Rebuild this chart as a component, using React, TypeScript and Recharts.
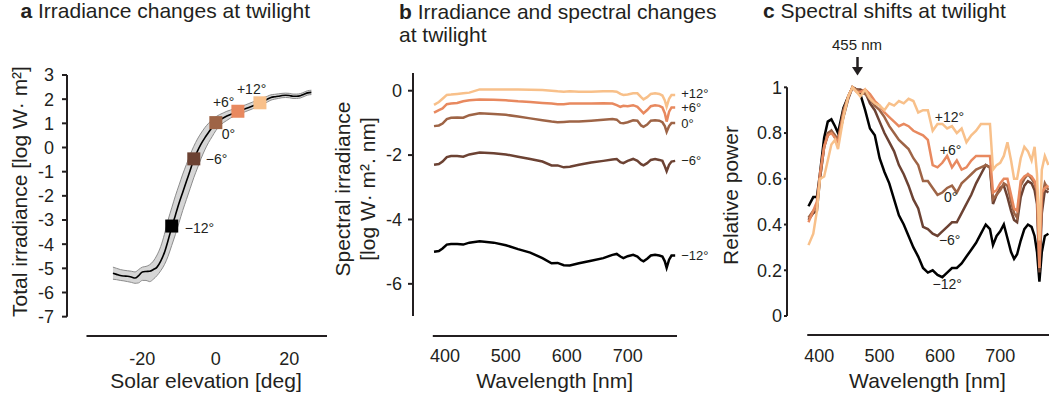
import React from 'react';
import { ComposedChart, LineChart, Line, Area, Scatter, XAxis, YAxis, ReferenceLine } from 'recharts';

const FONT = '"Liberation Sans", Arial, Helvetica, sans-serif';
const INK = '#231f20';

// ---------- Panel a : total irradiance vs solar elevation ----------
const elevation = [
  -28, -27, -26, -25, -24, -23, -22, -21, -20, -19, -18, -17, -16, -15, -14, -13, -12, -11, -10,
  -9, -8, -7, -6, -5, -4, -3, -2, -1, 0, 1, 2, 3, 4, 5, 6, 7, 8, 9, 10, 11, 12, 13, 14, 15, 16,
  17, 18, 19, 20, 21, 22, 23, 24, 25, 26,
];
const irradiance = [
  -5.2, -5.25, -5.3, -5.32, -5.33, -5.36, -5.4, -5.3, -5.15, -5.13, -5.12, -5.05, -4.95, -4.7, -4.35,
  -3.85, -3.3, -2.8, -2.3, -1.85, -1.4, -0.95, -0.5, -0.15, 0.15, 0.4, 0.62, 0.84, 1.03, 1.13, 1.22,
  1.3, 1.37, 1.43, 1.48, 1.54, 1.6, 1.66, 1.72, 1.78, 1.84, 1.92, 2.0, 2.07, 2.1, 2.12, 2.15, 2.16,
  2.15, 2.12, 2.12, 2.14, 2.2, 2.26, 2.28,
];
const bandLow = [
  -5.45, -5.47, -5.5, -5.52, -5.55, -5.58, -5.62, -5.6, -5.5, -5.5, -5.55, -5.45, -5.3, -5.1, -4.85,
  -4.5, -4.05, -3.6, -3.1, -2.6, -2.15, -1.7, -1.25, -0.85, -0.45, -0.1, 0.2, 0.45, 0.7, 0.88, 1.02,
  1.12, 1.22, 1.3, 1.36, 1.42, 1.48, 1.54, 1.6, 1.66, 1.72, 1.8, 1.88, 1.96, 2.0, 2.03, 2.06, 2.07,
  2.06, 2.03, 2.03, 2.05, 2.11, 2.17, 2.19,
];
const bandHigh = [
  -4.95, -5.0, -5.05, -5.08, -5.1, -5.12, -5.15, -5.05, -4.95, -4.92, -4.85, -4.7, -4.45, -4.1, -3.6,
  -3.0, -2.5, -2.0, -1.55, -1.1, -0.7, -0.3, 0.05, 0.35, 0.6, 0.82, 1.0, 1.15, 1.27, 1.36, 1.43,
  1.5, 1.55, 1.6, 1.65, 1.7, 1.76, 1.82, 1.88, 1.94, 2.0, 2.06, 2.12, 2.18, 2.2, 2.22, 2.24, 2.25,
  2.24, 2.21, 2.21, 2.23, 2.29, 2.35, 2.37,
];
const markerElevation = [-12, -6, 0, 6, 12];
const markerIrradiance = [-3.25, -0.47, 1.03, 1.5, 1.85];
const degreeLabels = ['−12°', '−6°', '0°', '+6°', '+12°'];
const xTicksA = [-20, 0, 20];
const yTicksA = [-7, -6, -5, -4, -3, -2, -1, 0, 1, 2, 3];

// ---------- Panel b : spectral irradiance ----------
const wavelengthB = [
  382, 390, 396, 403, 410, 420, 430, 440, 457, 480, 500, 520, 540, 560, 575, 585, 595, 605, 620, 640,
  660, 675, 682, 688, 693, 700, 709, 716, 722, 726, 732, 738, 745, 752, 757, 761, 764, 768, 772, 778,
];
const specPlus12 = [
  -0.44, -0.35, -0.25, -0.13, -0.12, -0.1, -0.08, -0.06, 0.04, 0.04, 0.04, 0.04, 0.03, 0.02, 0.0,
  -0.02, -0.03, -0.02, -0.03, -0.03, -0.02, -0.02, -0.03, -0.1, -0.13, -0.12, -0.08, -0.08, -0.2,
  -0.27, -0.2, -0.1, -0.08, -0.1, -0.15, -0.3, -0.5, -0.25, -0.13, -0.13,
];
const specPlus6 = [
  -0.68, -0.6, -0.55, -0.42, -0.4, -0.38, -0.33, -0.3, -0.27, -0.28, -0.3, -0.33, -0.35, -0.38, -0.4,
  -0.42, -0.42, -0.4, -0.4, -0.4, -0.39, -0.4, -0.45, -0.5, -0.47, -0.48, -0.45, -0.5, -0.62, -0.7,
  -0.6, -0.48, -0.45, -0.47, -0.52, -0.7, -0.96, -0.65, -0.52, -0.52,
];
const specZero = [
  -1.1, -1.08, -1.02, -0.88, -0.84, -0.83, -0.84, -0.76, -0.7, -0.72, -0.75, -0.8, -0.86, -0.92,
  -0.96, -0.98, -0.97, -0.96, -0.96, -0.93, -0.9, -0.88, -0.9, -1.0, -1.01, -0.98, -0.92, -0.93,
  -1.08, -1.12, -1.05, -0.93, -0.92, -0.93, -0.98, -1.1, -1.28, -1.1, -1.0, -1.0,
];
const specMinus6 = [
  -2.3, -2.28, -2.2, -2.06, -2.03, -2.03, -2.05, -1.98, -1.92, -1.94, -1.98, -2.05, -2.12, -2.2,
  -2.32, -2.32, -2.38, -2.36, -2.3, -2.23, -2.18, -2.14, -2.12, -2.22, -2.25, -2.18, -2.12, -2.18,
  -2.28, -2.32, -2.25, -2.15, -2.12, -2.15, -2.18, -2.35, -2.5, -2.3, -2.2, -2.18,
];
const specMinus12 = [
  -5.0, -4.98, -4.9, -4.78, -4.76, -4.76, -4.78, -4.72, -4.68, -4.72, -4.8, -4.92, -5.03, -5.2,
  -5.36, -5.35, -5.42, -5.43, -5.36, -5.28, -5.2, -5.1, -5.07, -5.15, -5.2, -5.14, -5.1, -5.15,
  -5.26, -5.3, -5.22, -5.12, -5.1, -5.12, -5.15, -5.3, -5.5, -5.25, -5.12, -5.12,
];
const xTicksB = [400, 500, 600, 700];
const yTicksB = [-6, -4, -2, 0];

// ---------- Panel c : relative power ----------
const wavelengthC = [
  382, 390, 396, 401, 408, 414, 420, 426, 431, 440, 448, 455, 462, 468, 476, 484, 492, 500, 508, 516,
  524, 532, 540, 548, 556, 564, 572, 580, 588, 596, 604, 612, 620, 628, 636, 644, 652, 660, 668, 676,
  683, 688, 694, 700, 706, 712, 718, 723, 728, 734, 740, 746, 752, 757, 761, 765, 769, 774, 780,
];
const relMinus12 = [
  0.48, 0.52, 0.52, 0.62, 0.78, 0.85, 0.86, 0.83, 0.8, 0.91, 0.96, 1.0, 0.99, 0.97, 0.9, 0.82, 0.79,
  0.69, 0.63, 0.58, 0.51, 0.44, 0.4, 0.35, 0.3, 0.26, 0.21, 0.19, 0.2, 0.18, 0.17, 0.19, 0.21, 0.21,
  0.23, 0.26, 0.29, 0.32, 0.36, 0.4, 0.38, 0.31, 0.35, 0.37, 0.4, 0.34, 0.28, 0.25, 0.27, 0.33, 0.38,
  0.4, 0.39, 0.35, 0.28, 0.15, 0.28, 0.35, 0.36,
];
const relMinus6 = [
  0.42, 0.45, 0.46, 0.6, 0.74, 0.79, 0.81, 0.78, 0.77, 0.87, 0.95, 1.0, 0.99, 0.99, 0.98, 0.93, 0.9,
  0.85, 0.8, 0.76, 0.72, 0.66, 0.62, 0.57, 0.51, 0.47, 0.39, 0.38, 0.36, 0.35, 0.37, 0.39, 0.41, 0.41,
  0.45, 0.49, 0.53, 0.58, 0.62, 0.66, 0.65, 0.49, 0.53, 0.56, 0.57, 0.52, 0.46, 0.42, 0.41, 0.52, 0.57,
  0.59, 0.58, 0.55, 0.49, 0.19, 0.45, 0.55, 0.54,
];
const relZero = [
  0.43, 0.46, 0.48, 0.6, 0.74, 0.8, 0.81, 0.79, 0.77, 0.9, 0.96, 1.0, 0.99, 0.98, 0.97, 0.95, 0.92,
  0.9, 0.87, 0.83, 0.8, 0.77, 0.75, 0.73, 0.69, 0.66, 0.59, 0.59, 0.56, 0.53, 0.54, 0.56, 0.57, 0.54,
  0.58, 0.6, 0.62, 0.64, 0.65, 0.66, 0.65, 0.51, 0.53, 0.55, 0.58, 0.57, 0.5, 0.45, 0.43, 0.57, 0.6,
  0.62, 0.6, 0.58, 0.54, 0.22, 0.51, 0.58, 0.55,
];
const relPlus6 = [
  0.41, 0.46, 0.5, 0.62, 0.74, 0.79, 0.8, 0.78, 0.76, 0.88, 0.96, 1.0, 0.98, 0.98, 0.99, 0.97, 0.94,
  0.92, 0.89, 0.87, 0.85, 0.83, 0.84, 0.83, 0.81, 0.8, 0.79, 0.77, 0.66, 0.65, 0.67, 0.7, 0.65, 0.68,
  0.64, 0.65, 0.68, 0.7, 0.7, 0.7, 0.7, 0.54, 0.55, 0.58, 0.6, 0.6, 0.53, 0.47, 0.46, 0.59, 0.61,
  0.62, 0.61, 0.59, 0.55, 0.21, 0.54, 0.56, 0.57,
];
const relPlus12 = [
  0.31, 0.36, 0.46, 0.6, 0.61, 0.68, 0.75, 0.77, 0.73, 0.87, 0.96, 1.0, 0.98, 0.96, 0.99, 0.95, 0.93,
  0.92, 0.9, 0.93, 0.92, 0.94, 0.93, 0.95, 0.94, 0.89, 0.9, 0.9, 0.81, 0.84, 0.84, 0.82, 0.83, 0.8,
  0.82, 0.76, 0.79, 0.81, 0.84, 0.84, 0.84, 0.64, 0.66, 0.67, 0.7, 0.76, 0.68, 0.6, 0.6, 0.69, 0.74,
  0.72, 0.68, 0.74, 0.62, 0.33, 0.64, 0.7, 0.66,
];
const xTicksC = [400, 500, 600, 700];
const yTicksC = [0, 0.2, 0.4, 0.6, 0.8, 1];

// ---------- styles ----------
const SERIES_COLOR: Record<string, string> = {
  '−12°': '#000000',
  '−6°': '#6c4233',
  '0°': '#9e6446',
  '+6°': '#e8895f',
  '+12°': '#f8c08a',
};
// label offset (px) relative to each square marker in panel a
const MARKER_LABEL_OFFSET: Record<string, [number, number]> = {
  '−12°': [13, 7],
  '−6°': [12, 5],
  '0°': [6, 16],
  '+6°': [-25, -4],
  '+12°': [-23, -9],
};
// vertical nudge (px) of the end-of-line labels in panel b
const END_LABEL_NUDGE: Record<string, number> = {
  '−12°': 0,
  '−6°': 0,
  '0°': 0.5,
  '+6°': 0.5,
  '+12°': -1.5,
};

// ---------- data tables ----------
const dataA = elevation.map((x, i) => ({ x, y: irradiance[i], band: [bandLow[i], bandHigh[i]] }));
const markerData = markerElevation.map((x, i) => ({ x, y: markerIrradiance[i], label: degreeLabels[i] }));

const seriesB = [
  { key: 'm12', label: '−12°', values: specMinus12 },
  { key: 'm6', label: '−6°', values: specMinus6 },
  { key: 'z0', label: '0°', values: specZero },
  { key: 'p6', label: '+6°', values: specPlus6 },
  { key: 'p12', label: '+12°', values: specPlus12 },
];
const dataB = wavelengthB.map((wl, i) => {
  const row: Record<string, number> = { wl };
  seriesB.forEach((s) => (row[s.key] = s.values[i]));
  return row;
});

const seriesC = [
  { key: 'm12', label: '−12°', values: relMinus12 },
  { key: 'm6', label: '−6°', values: relMinus6 },
  { key: 'z0', label: '0°', values: relZero },
  { key: 'p6', label: '+6°', values: relPlus6 },
  { key: 'p12', label: '+12°', values: relPlus12 },
];
const dataC = wavelengthC.map((wl, i) => {
  const row: Record<string, number> = { wl };
  seriesC.forEach((s) => (row[s.key] = s.values[i]));
  return row;
});

const tickStyle = { fontSize: 18, fill: INK, fontFamily: FONT };
const axisStroke = { stroke: INK, strokeWidth: 2 };

const MarkerShape = (props: any) => {
  const { cx, cy, payload } = props;
  if (cx == null || cy == null) return null;
  const label: string = payload.label;
  const [dx, dy] = MARKER_LABEL_OFFSET[label];
  return (
    <g>
      <rect x={cx - 6.5} y={cy - 6.5} width={13} height={13} fill={SERIES_COLOR[label]} />
      <text x={cx + dx} y={cy + dy} fontSize={14} fill={INK} fontFamily={FONT}>
        {label}
      </text>
    </g>
  );
};

const endLabel = (text: string, lastIndex: number) => (props: any) => {
  if (props.index !== lastIndex) return null;
  return (
    <text x={props.x + 6} y={props.y + 4.5 + END_LABEL_NUDGE[text]} fontSize={13} fill={INK} fontFamily={FONT}>
      {text}
    </text>
  );
};

const abs = (style: React.CSSProperties): React.CSSProperties => ({ position: 'absolute', ...style });

const RotLabel = ({ cx, cy, lines, lh }: { cx: number; cy: number; lines: string[]; lh: number }) => {
  const w = 320;
  const h = lh * lines.length;
  return (
    <div
      style={abs({
        left: cx - w / 2,
        top: cy - h / 2,
        width: w,
        height: h,
        lineHeight: lh + 'px',
        fontSize: 21,
        textAlign: 'center',
        transform: 'rotate(-90deg)',
        transformOrigin: '50% 50%',
        whiteSpace: 'nowrap',
      })}
    >
      {lines.map((l, i) => (
        <div key={i}>{l}</div>
      ))}
    </div>
  );
};

const XLabel = ({ cx, text }: { cx: number; text: string }) => (
  <div
    style={abs({ left: cx - 150, top: 370, width: 300, textAlign: 'center', fontSize: 21, lineHeight: '21px' })}
  >
    {text}
  </div>
);

const CurveTag = ({ cx, cy, text }: { cx: number; cy: number; text: string }) => (
  <div style={abs({ left: cx - 30, top: cy - 7, width: 60, textAlign: 'center', fontSize: 14, lineHeight: '14px' })}>
    {text}
  </div>
);

export default function App() {
  return (
    <div
      style={{
        position: 'absolute',
        left: 0,
        top: 0,
        width: 1049,
        height: 398,
        background: '#fff',
        overflow: 'hidden',
        fontFamily: FONT,
        color: INK,
      }}
    >
      {/* Panel a */}
      <div style={abs({ left: 0, top: 0, width: 340, height: 398 })}>
        <ComposedChart width={340} height={398} data={dataA} margin={{ top: 75, right: 13, bottom: 22, left: 17 }}>
          <XAxis
            dataKey="x"
            type="number"
            domain={[-40.5, 30.25]}
            ticks={xTicksA}
            interval={0}
            axisLine={false}
            tickLine={false}
            tickSize={0}
            tickMargin={16}
            height={40}
            tick={tickStyle}
          />
          <YAxis
            type="number"
            domain={[-7.8, 3]}
            ticks={yTicksA}
            interval={0}
            axisLine={false}
            tickLine={axisStroke}
            tickSize={5}
            tickMargin={8}
            width={50}
            tick={tickStyle}
          />
          <ReferenceLine segment={[{ x: -40.5, y: -7 }, { x: -40.5, y: 3 }]} {...axisStroke} ifOverflow="visible" />
          <ReferenceLine segment={[{ x: -35.2, y: -7.8 }, { x: 30.25, y: -7.8 }]} {...axisStroke} ifOverflow="visible" />
          <Area
            dataKey="band"
            type="monotone"
            fill="#d6d6d6"
            fillOpacity={1}
            stroke="#8c8c8c"
            strokeWidth={1}
            isAnimationActive={false}
          />
          <Line dataKey="y" type="monotone" stroke="#000" strokeWidth={1.6} dot={false} isAnimationActive={false} />
          <Scatter data={markerData} dataKey="y" shape={MarkerShape} isAnimationActive={false} />
        </ComposedChart>
      </div>

      {/* Panel b */}
      <div style={abs({ left: 330, top: 0, width: 400, height: 398 })}>
        <LineChart width={400} height={398} data={dataB} margin={{ top: 73, right: 53, bottom: 22, left: 23 }}>
          <XAxis
            dataKey="wl"
            type="number"
            domain={[347.5, 781]}
            ticks={xTicksB}
            interval={0}
            axisLine={false}
            tickLine={false}
            tickSize={0}
            tickMargin={13}
            height={40}
            tick={tickStyle}
          />
          <YAxis
            type="number"
            domain={[-7.62, 0.55]}
            ticks={yTicksB}
            interval={0}
            axisLine={false}
            tickLine={axisStroke}
            tickSize={5}
            tickMargin={6}
            width={60}
            tick={tickStyle}
          />
          <ReferenceLine segment={[{ x: 347.5, y: -7 }, { x: 347.5, y: 0.55 }]} {...axisStroke} ifOverflow="visible" />
          <ReferenceLine segment={[{ x: 380, y: -7.62 }, { x: 781, y: -7.62 }]} {...axisStroke} ifOverflow="visible" />
          {seriesB.map((s) => (
            <Line
              key={s.key}
              dataKey={s.key}
              type="linear"
              stroke={SERIES_COLOR[s.label]}
              strokeWidth={2.5}
              dot={false}
              label={endLabel(s.label, wavelengthB.length - 1)}
              isAnimationActive={false}
            />
          ))}
        </LineChart>
      </div>

      {/* Panel c */}
      <div style={abs({ left: 700, top: 0, width: 349, height: 398, overflow: 'hidden' })}>
        <LineChart width={349} height={398} data={dataC} margin={{ top: 80, right: 0, bottom: 23, left: 27 }}>
          <XAxis
            dataKey="wl"
            type="number"
            domain={[346.4, 780.9]}
            ticks={xTicksC}
            interval={0}
            axisLine={false}
            tickLine={false}
            tickSize={0}
            tickMargin={14}
            height={40}
            tick={tickStyle}
          />
          <YAxis
            type="number"
            domain={[-0.083, 1.032]}
            ticks={yTicksC}
            interval={0}
            axisLine={false}
            tickLine={axisStroke}
            tickSize={3}
            tickMargin={2}
            width={60}
            tick={tickStyle}
          />
          <ReferenceLine segment={[{ x: 346.4, y: 0 }, { x: 346.4, y: 1 }]} {...axisStroke} ifOverflow="visible" />
          <ReferenceLine segment={[{ x: 380, y: -0.083 }, { x: 780.9, y: -0.083 }]} {...axisStroke} ifOverflow="visible" />
          {seriesC.map((s) => (
            <Line
              key={s.key}
              dataKey={s.key}
              type="linear"
              stroke={SERIES_COLOR[s.label]}
              strokeWidth={2.5}
              dot={false}
              isAnimationActive={false}
            />
          ))}
        </LineChart>
      </div>

      {/* Titles */}
      <div style={abs({ left: 20.5, top: 0, fontSize: 21, lineHeight: '21px', whiteSpace: 'nowrap' })}>
        <b>a</b> Irradiance changes at twilight
      </div>
      <div style={abs({ left: 399, top: 0, fontSize: 21, lineHeight: '23px', whiteSpace: 'nowrap' })}>
        <b>b</b> Irradiance and spectral changes
        <br />
        at twilight
      </div>
      <div style={abs({ left: 763, top: 0, fontSize: 21, lineHeight: '21px', whiteSpace: 'nowrap' })}>
        <b>c</b> Spectral shifts at twilight
      </div>

      {/* Axis titles */}
      <RotLabel cx={19.4} cy={191.7} lh={21} lines={['Total irradiance [log W· m²]']} />
      <RotLabel cx={355.2} cy={189} lh={25} lines={['Spectral irradiance', '[log W· m². nm]']} />
      <RotLabel cx={730} cy={195.8} lh={21} lines={['Relative power']} />
      <XLabel cx={206} text="Solar elevation [deg]" />
      <XLabel cx={554.7} text="Wavelength [nm]" />
      <XLabel cx={927.5} text="Wavelength [nm]" />

      {/* Panel c annotations */}
      <div style={abs({ left: 807, top: 37.3, width: 100, textAlign: 'center', fontSize: 15, lineHeight: '15px' })}>
        455 nm
      </div>
      <svg style={abs({ left: 847, top: 54, overflow: 'visible' })} width={22} height={26}>
        <line x1={10.5} y1={3} x2={10.5} y2={14} stroke={INK} strokeWidth={2.5} />
        <polygon points="5,13 16,13 10.5,21.5" fill={INK} />
      </svg>
      <CurveTag cx={949.5} cy={117} text="+12°" />
      <CurveTag cx={950.5} cy={150} text="+6°" />
      <CurveTag cx={950.7} cy={196.7} text="0°" />
      <CurveTag cx={949.7} cy={240} text="−6°" />
      <CurveTag cx={947.2} cy={284.3} text="−12°" />
    </div>
  );
}
